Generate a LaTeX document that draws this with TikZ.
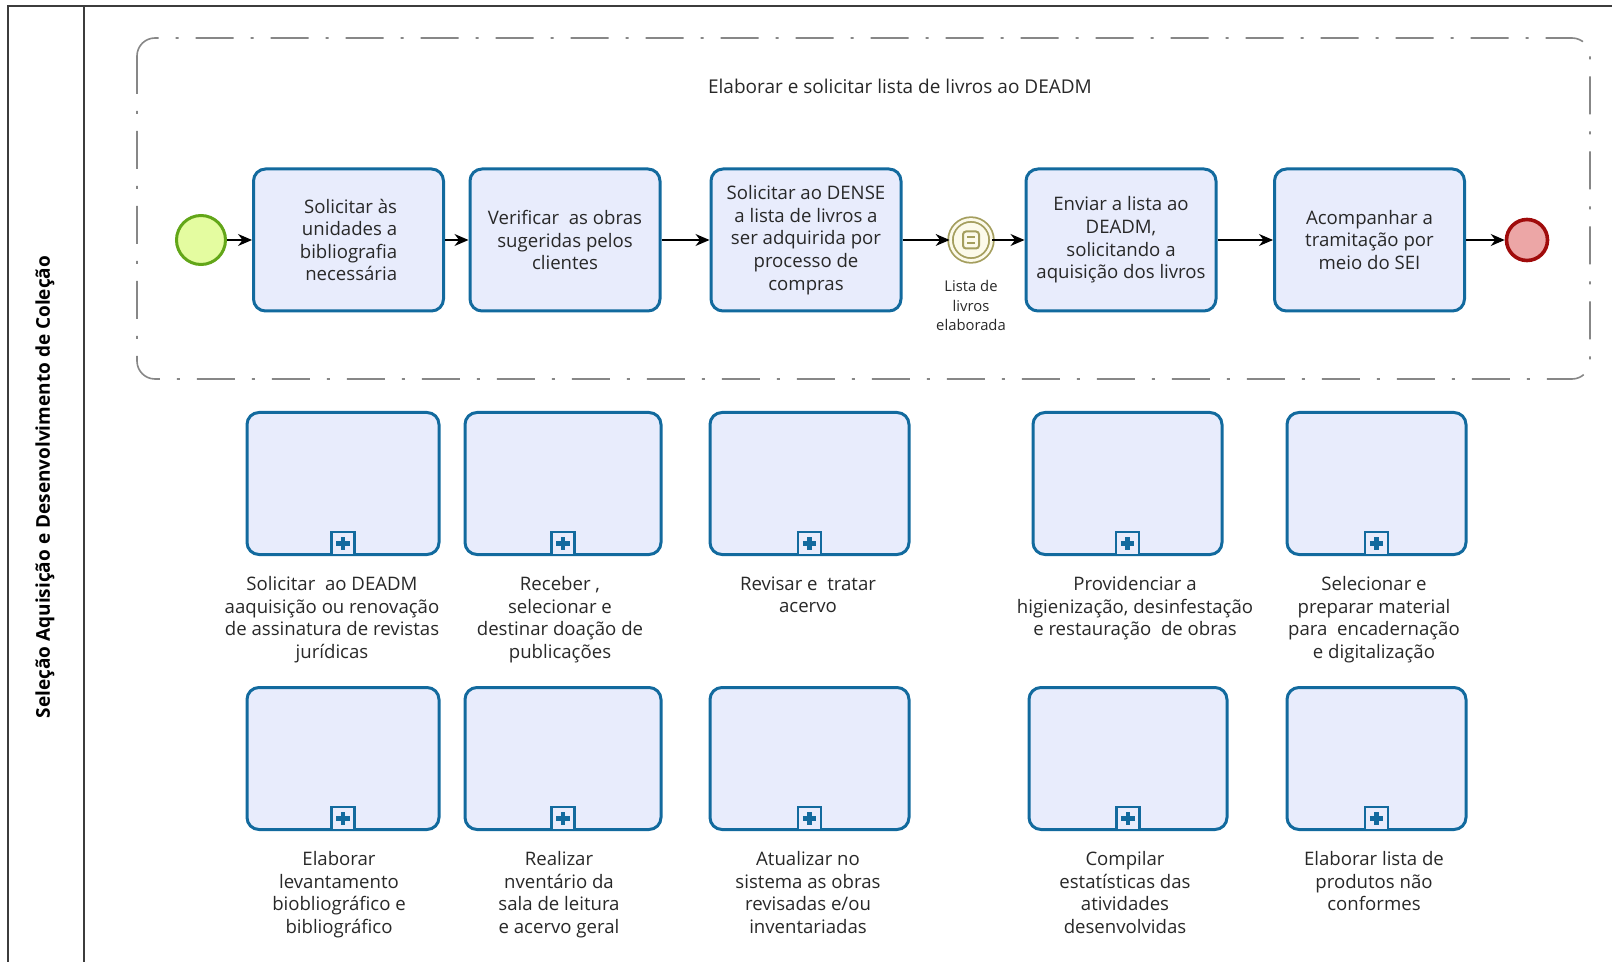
\documentclass[tikz,border=0pt]{standalone}
\usepackage{fontspec}
\setmainfont{Open Sans}
\usetikzlibrary{arrows.meta}

\definecolor{taskfill}{RGB}{232,236,252}
\definecolor{taskline}{RGB}{18,106,158}
\definecolor{startfill}{RGB}{228,252,160}
\definecolor{startline}{RGB}{98,166,24}
\definecolor{endfill}{RGB}{236,166,166}
\definecolor{endline}{RGB}{160,12,12}
\definecolor{evline}{RGB}{164,158,94}
\definecolor{evfill}{RGB}{252,250,234}
\definecolor{txt}{RGB}{40,40,40}
\definecolor{grp}{RGB}{135,135,135}
\definecolor{pool}{RGB}{60,60,60}

\begin{document}
\begin{tikzpicture}[x=0.5pt,y=-0.5pt,
	font=\fontsize{9.3}{11.3}\selectfont, text=txt,
	task/.style={draw=taskline,fill=taskfill,line width=1.5pt,rounded corners=6pt,
		minimum width=95pt,minimum height=71pt,align=center,inner sep=0pt},
	subproc/.style={draw=taskline,fill=taskfill,line width=1.5pt,rounded corners=6pt,
		minimum height=71pt,inner sep=0pt},
	plusbox/.style={draw=taskline,fill=taskfill,line width=1.2pt,minimum size=11.5pt,
		inner sep=0pt,anchor=south,
		path picture={\draw[taskline,line width=2.2pt]
			([xshift=-3.3pt]path picture bounding box.center) -- ([xshift=3.3pt]path picture bounding box.center)
			([yshift=-3.3pt]path picture bounding box.center) -- ([yshift=3.3pt]path picture bounding box.center);}},
	lbl/.style={align=center,anchor=north,inner sep=0pt},
	flow/.style={-{Stealth[length=7pt,width=6pt]},line width=0.6pt,black}]
	
	\useasboundingbox (0,0) rectangle (1612,962);
	
	% pool and lane
	\draw[pool,line width=1pt] (8,962) -- (8,6) -- (1612,6);
	\draw[pool,line width=1pt] (84,6) -- (84,962);
	\node[rotate=90,text=black,font=\fontsize{9.5}{11}\selectfont\bfseries] (lane) at (45,487)
		{Seleção Aquisição e Desenvolvimento de Coleção};
	
	% group around the main flow
	\draw[grp,line width=0.8pt,rounded corners=9pt,
		dash pattern=on 19pt off 8.5pt on 1.5pt off 8.5pt] (137,38) rectangle (1590,379);
	\node[font=\fontsize{9.5}{11.3}\selectfont] (grptitle) at (900,86) {Elaborar e solicitar lista de livros ao DEADM};
	
	% events and tasks
	\node[circle,draw=startline,fill=startfill,line width=1.5pt,minimum size=24.5pt] (start) at (201,240) {};
	\node[task,align=right] (t1) at (348.5,240) {Solicitar às\\unidades a\\bibliografia\\necessária};
	\node[task] (t2) at (565,240) {Verificar\ \ as obras\\sugeridas pelos\\clientes};
	\node[task] (t3) at (806,240) {Solicitar ao DENSE\\a lista de livros a\\ser adquirida por\\processo de\\compras};
	\node[circle,draw=evline,fill=evfill,line width=0.9pt,double=evfill,double distance=1.4pt,
		minimum size=20.5pt] (ev) at (971,240) {};
	\draw[evline,line width=1pt,rounded corners=1.5pt] ([shift={(-8,-8.5)}]ev.center) rectangle ([shift={(8,8.5)}]ev.center);
	\draw[evline,line width=1pt] ([shift={(-4,-3)}]ev.center) -- ([shift={(4,-3)}]ev.center)
		([shift={(-4,3)}]ev.center) -- ([shift={(4,3)}]ev.center);
	\node[lbl,font=\fontsize{7.4}{9.8}\selectfont] (evlbl) at (971,280) {Lista de\\livros\\elaborada};
	\node[task] (t4) at (1121,240) {Enviar a lista ao\\DEADM,\\solicitando a\\aquisição dos livros};
	\node[task] (t5) at (1369.5,240) {Acompanhar a\\tramitação por\\meio do SEI};
	\node[circle,draw=endline,fill=endfill,line width=1.8pt,minimum size=20.5pt] (end) at (1527,240) {};
	
	% sequence flows
	\draw[flow] (start) -- (t1);
	\draw[flow] (t1) -- (t2);
	\draw[flow] (t2) -- (t3);
	\draw[flow] (t3) -- (ev);
	\draw[flow] (ev) -- (t4);
	\draw[flow] (t4) -- (t5);
	\draw[flow] (t5) -- (end);
	
	% collapsed sub-processes with their labels
	\foreach \nm/\cx/\cy/\w/\lx/\ly/\txt in {
		b1/343/483.5/192/332/576/{Solicitar\ \ ao DEADM\\aaquisição ou renovação\\de assinatura de revistas\\jurídicas},
		b2/563/483.5/196/560/576/{Receber ,\\selecionar e\\destinar doação de\\publicações},
		b3/809.5/483.5/199/808/576/{Revisar e\ \ tratar\\acervo},
		b4/1127.5/483.5/189/1135/576/{Providenciar a\\higienização, desinfestação\\e restauração\ \ de obras},
		b5/1376.5/483.5/179/1374/576/{Selecionar e\\preparar material\\para\ \ encadernação\\e digitalização},
		c1/343/758.5/192/339/851/{Elaborar\\levantamento\\biobliográfico e\\bibliográfico},
		c2/563/758.5/196/559/851/{Realizar\\nventário da\\sala de leitura\\e acervo geral},
		c3/809.5/758.5/199/808/851/{Atualizar no\\sistema as obras\\revisadas e{/}ou\\inventariadas},
		c4/1128/758.5/198/1125/851/{Compilar\\estatísticas das\\atividades\\desenvolvidas},
		c5/1376.5/758.5/179/1374/851/{Elaborar lista de\\produtos não\\conformes}} {
		\node[subproc,minimum width=\w*0.5pt] (\nm) at (\cx,\cy) {};
		\node[plusbox] (\nm-m) at (\nm.south) {};
		\node[lbl] (\nm-l) at (\lx,\ly) {\txt};
	}
\end{tikzpicture}
\end{document}
